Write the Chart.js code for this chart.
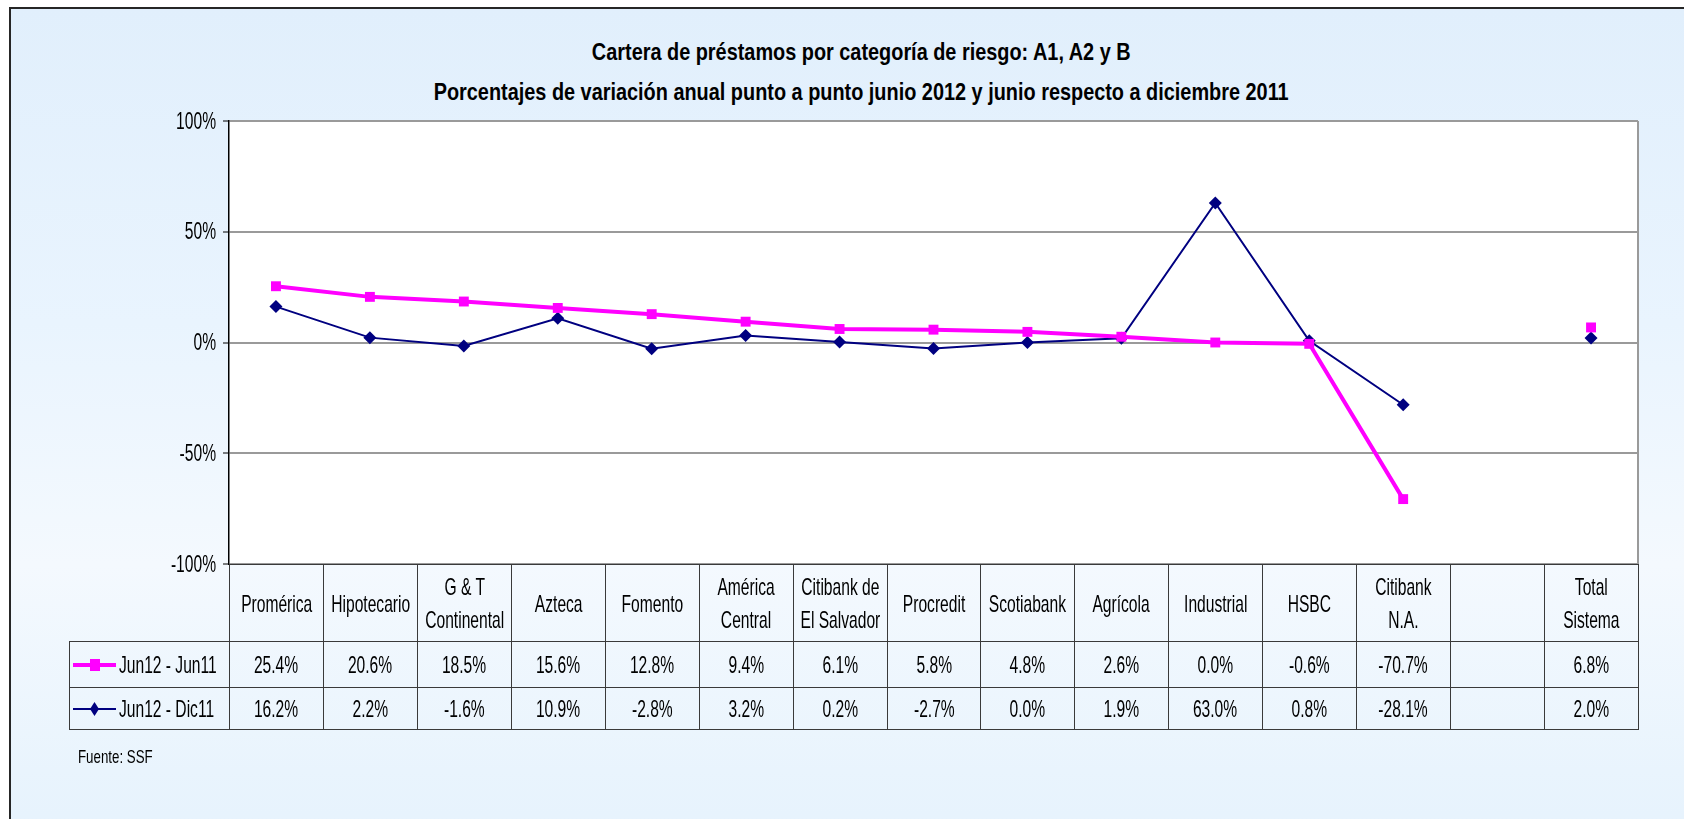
<!DOCTYPE html>
<html>
<head>
<meta charset="utf-8">
<script src="https://cdn.jsdelivr.net/npm/chart.js@4.4.1/dist/chart.umd.min.js"></script>
<style>
  html, body { margin:0; padding:0; width:1684px; height:819px; overflow:hidden; background:#fff; }
  #frame { position:absolute; left:9px; top:7px; width:1760px; height:900px; box-sizing:border-box;
           border:2px solid #262626;
           background:linear-gradient(180deg, #e1effc 0%, #e9f4fe 35%, #f4f9fe 62%, #e9f4fd 85%, #e3f1fd 100%); }
  #wrap { position:absolute; left:0; top:0; width:1684px; height:819px; }
  .n { display:inline-block; transform:scaleX(0.65); transform-origin:center center; }
  #title { position:absolute; left:0; top:32px; width:1722px; text-align:center;
           font-family:"Liberation Sans",Arial,sans-serif; font-weight:bold; font-size:24px;
           line-height:40px; color:#000; }
  #title .t { display:inline-block; white-space:nowrap; transform-origin:center center; }
  .cell { position:absolute; box-sizing:border-box; border:1px solid #3a3a3a; display:flex;
          align-items:center; justify-content:center; text-align:center; color:#000;
          font-family:"Liberation Sans",Arial,sans-serif; font-size:24px; white-space:nowrap; }
  .hdr { line-height:33px; }
  .leg { justify-content:flex-start; padding-left:3px; }
  .leg .n { transform-origin:left center; }
  .leg svg { flex:none; margin-right:3px; }
  #fuente { position:absolute; left:78px; top:746px; font-family:"Liberation Sans",Arial,sans-serif;
            font-size:19px; color:#000; transform:scaleX(0.7); transform-origin:left center; white-space:nowrap; }
</style>
</head>
<body>
<div id="frame"></div>
<div id="title"><span class="t">Cartera de préstamos por categoría de riesgo: A1, A2 y B</span><br><span class="t">Porcentajes de variación anual punto a punto junio 2012 y junio respecto a diciembre 2011</span></div>
<div id="wrap"><canvas id="c" width="1684" height="819"></canvas></div>
<div id="table"></div>
<div id="fuente">Fuente: SSF</div>
<script>
// ---- data ----
const categories = [
  ['Promérica'], ['Hipotecario'], ['G & T', 'Continental'], ['Azteca'], ['Fomento'],
  ['América', 'Central'], ['Citibank de', 'El Salvador'], ['Procredit'], ['Scotiabank'],
  ['Agrícola'], ['Industrial'], ['HSBC'], ['Citibank', 'N.A.'], [''], ['Total', 'Sistema']
];
const seriesNames = ['Jun12 - Jun11', 'Jun12 - Dic11'];
const jun12Jun11 = [25.4, 20.6, 18.5, 15.6, 12.8, 9.4, 6.1, 5.8, 4.8, 2.6, 0.0, -0.6, -70.7, null, 6.8];
const jun12Dic11 = [16.2, 2.2, -1.6, 10.9, -2.8, 3.2, 0.2, -2.7, 0.0, 1.9, 63.0, 0.8, -28.1, null, 2.0];
const yTicks = [-100, -50, 0, 50, 100];
const seriesColors = ['#FF00FF', '#000080'];

// title: condense to the reference width
(function () {
  const spans = document.querySelectorAll('#title .t');
  const w2 = spans[1].getBoundingClientRect().width;
  const s = 855 / w2;
  spans.forEach(sp => { sp.style.transform = 'scaleX(' + s + ')'; });
})();

const plotDecor = {
  id: 'plotDecor',
  beforeDraw(chart) {
    const { ctx, chartArea: a } = chart;
    ctx.save();
    ctx.fillStyle = '#ffffff';
    ctx.fillRect(a.left, a.top, a.right - a.left, a.bottom - a.top);
    ctx.restore();
  },
  beforeDatasetsDraw(chart) {
    const { ctx, chartArea: a } = chart;
    ctx.save();
    ctx.strokeStyle = '#9a9a9a';
    ctx.lineWidth = 2;
    ctx.beginPath();
    ctx.moveTo(a.right, a.top);
    ctx.lineTo(a.right, a.bottom);
    ctx.stroke();
    ctx.restore();
  },
  afterDraw(chart) {
    // condensed y tick labels placed by the y scale
    const { ctx } = chart;
    const ys = chart.scales.y;
    ctx.save();
    ctx.fillStyle = '#000';
    ctx.font = '24px "Liberation Sans", Arial, sans-serif';
    ctx.textAlign = 'right';
    ctx.textBaseline = 'middle';
    ys.ticks.forEach(t => {
      const y = ys.getPixelForValue(t.value);
      ctx.save();
      ctx.translate(ys.right - 13, y + 1);
      ctx.scale(0.65, 1);
      ctx.fillText(t.value + '%', 0, 0);
      ctx.restore();
    });
    ctx.restore();
  }
};

const chart = new Chart(document.getElementById('c'), {
  type: 'line',
  data: {
    labels: categories.map(c => c.join(' ')),
    datasets: [
      { label: seriesNames[0], data: jun12Jun11, borderColor: seriesColors[0], backgroundColor: seriesColors[0],
        borderWidth: 4, pointStyle: 'rect', pointRadius: 7, pointHoverRadius: 7, pointBorderWidth: 0,
        tension: 0, spanGaps: false },
      { label: seriesNames[1], data: jun12Dic11, borderColor: seriesColors[1], backgroundColor: seriesColors[1],
        borderWidth: 2, pointStyle: 'rectRot', pointRadius: 6.5, pointHoverRadius: 6.5, pointBorderWidth: 0,
        tension: 0, spanGaps: false }
    ]
  },
  options: {
    responsive: false,
    animation: false,
    layout: { padding: { top: 121, bottom: 255, left: 0, right: 46 } },
    plugins: { legend: { display: false }, title: { display: false }, tooltip: { enabled: false } },
    scales: {
      x: { type: 'category', offset: true, display: false },
      y: {
        min: -100, max: 100,
        afterFit(s) { s.width = 229; },
        afterBuildTicks(s) { s.ticks = yTicks.map(v => ({ value: v })); },
        ticks: { callback: v => v + '%', color: 'rgba(0,0,0,0)', font: { size: 18 }, padding: 5 },
        grid: { color: '#9a9a9a', lineWidth: 2, tickColor: '#000', tickLength: 6, tickWidth: 1 },
        border: { color: '#000', width: 1.5 }
      }
    }
  },
  plugins: [plotDecor]
});

// ---- data table built from the x scale ----
(function buildTable() {
  const xs = chart.scales.x;
  const a = chart.chartArea;
  const n = categories.length;
  const colW = (a.right - a.left) / n;
  const tbl = document.getElementById('table');
  const legLeft = 69;
  const rows = [a.bottom, 641, 687, 729];
  const values = [jun12Jun11, jun12Dic11];
  function cell(x, y, w, h, html, cls) {
    const d = document.createElement('div');
    d.className = 'cell ' + (cls || '');
    d.style.left = Math.round(x) + 'px';
    d.style.top = Math.round(y) + 'px';
    d.style.width = (Math.round(x + w) - Math.round(x) + 1) + 'px';
    d.style.height = (Math.round(y + h) - Math.round(y) + 1) + 'px';
    d.innerHTML = html;
    tbl.appendChild(d);
  }
  for (let i = 0; i < n; i++) {
    const cx = xs.getPixelForValue(i);
    const x0 = cx - colW / 2;
    cell(x0, rows[0], colW, rows[1] - rows[0], '<span class="n">' + categories[i].join('<br>') + '</span>', 'hdr');
    for (let r = 0; r < 2; r++) {
      const v = values[r][i];
      cell(x0, rows[r + 1], colW, rows[r + 2] - rows[r + 1],
           v === null ? '' : '<span class="n">' + v.toFixed(1) + '%</span>');
    }
  }
  const sym = [
    '<svg width="43" height="14"><line x1="0" y1="7" x2="43" y2="7" stroke="#FF00FF" stroke-width="4"/><rect x="17" y="1" width="10" height="12" fill="#FF00FF"/></svg>',
    '<svg width="43" height="14"><line x1="0" y1="7" x2="43" y2="7" stroke="#000080" stroke-width="2"/><polygon points="21.5,0 26,7 21.5,14 17,7" fill="#000080"/></svg>'
  ];
  for (let r = 0; r < 2; r++) {
    cell(legLeft, rows[r + 1], a.left - legLeft, rows[r + 2] - rows[r + 1],
         sym[r] + '<span class="n">' + seriesNames[r] + '</span>', 'leg');
  }
})();
</script>
</body>
</html>
